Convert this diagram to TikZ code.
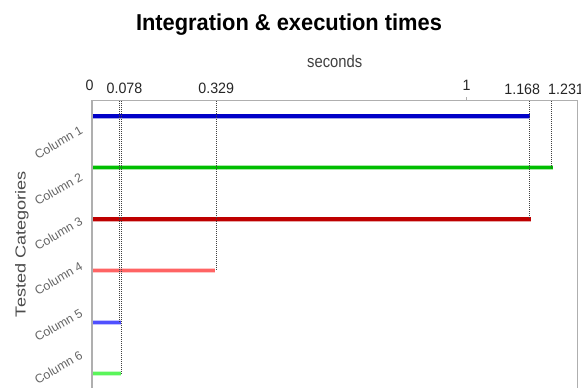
\documentclass[tikz,border=0pt]{standalone}
\usepackage{fontspec}
\setmainfont{Liberation Sans}
\newfontfamily\narrowfont[FakeStretch=0.95]{Liberation Sans}
\newfontfamily\condfont[FakeStretch=0.87]{Liberation Sans}
\newfontfamily\widefont[FakeStretch=1.25]{Liberation Sans}
\newcommand{\titlefont}{\narrowfont\fontsize{23}{27}\selectfont\bfseries}
\newcommand{\tickfont}{\narrowfont\fontsize{15}{17}\selectfont}
\newcommand{\secfont}{\condfont\fontsize{17}{19}\selectfont}
\newcommand{\catfont}{\fontsize{12.3}{14}\selectfont}
\newcommand{\ylabfont}{\widefont\fontsize{14.5}{16}\selectfont}
\definecolor{cA}{RGB}{0,0,200}
\definecolor{cB}{RGB}{0,190,0}
\definecolor{cC}{RGB}{190,0,0}
\definecolor{cD}{RGB}{255,100,100}
\definecolor{cE}{RGB}{80,80,255}
\definecolor{cF}{RGB}{90,245,90}
\definecolor{axisgray}{RGB}{175,175,175}
\begin{document}
\begin{tikzpicture}[x=1pt,y=-1pt,
  axisline/.style={draw=axisgray, line width=1.4pt},
  barglow/.style={line width=5pt, opacity=0.35},
  barcore/.style={line width=3.2pt},
  guide/.style={draw=black!75, line width=0.5pt, dash pattern=on 1pt off 1pt},
  ticklab/.style={font=\tickfont, text=black!85, inner sep=0pt},
  catlab/.style={font=\catfont, text=black!60, rotate=30, inner sep=0pt},
]
\useasboundingbox (0,0) rectangle (581,388);
\fill[white] (0,0) rectangle (581,388);

% title and axis title
\node[font=\titlefont, anchor=base, inner sep=0pt] (title) at (289,30.5) {Integration \& execution times};
\node[font=\secfont, text=black!75, anchor=base, inner sep=0pt] (secs) at (334.7,67.3) {seconds};
\node[font=\ylabfont, text=black!70, rotate=90, inner sep=0pt] (ylab) at (22,244) {Tested Categories};

% bars
\foreach \n/\y/\e/\c in {1/116/529.5/cA, 2/167.7/553/cB, 3/219/530.5/cC, 4/270.7/215/cD, 5/322.3/120.5/cE, 6/373.3/121/cF}{
  \coordinate (s\n) at (92,\y);
  \coordinate (e\n) at (\e,\y);
  \draw[barglow, \c] (s\n) -- (e\n);
  \draw[barcore, \c] (s\n) -- (e\n);
}

% guide lines
\foreach \n/\x/\y in {1/529.3/116, 2/551/167.7, 3/529.3/219, 4/216/270.7, 5/119.3/322.3, 6/121.5/373.3}{
  \coordinate (gt\n) at (\x,101);
  \coordinate (gb\n) at (\x,\y);
  \draw[guide] (gt\n) -- (gb\n);
}

% axes
\coordinate (o) at (92,100.5);
\coordinate (tr) at (577.5,100.5);
\coordinate (bl) at (92,388);
\coordinate (br) at (577.5,388);
\draw[axisline] (bl) -- (o) -- (tr) -- (br);
\coordinate (t1) at (466.7,100.5);
\coordinate (t1u) at (466.7,96.5);
\draw[axisline, line width=0.8pt] (t1) -- (t1u);

% tick labels
\node[ticklab, anchor=base] (l0) at (89.5,90.5) {0};
\node[ticklab, anchor=base] (l1) at (466.7,90) {1};
\node[ticklab, anchor=base] (la) at (124.5,93.5) {0.078};
\node[ticklab, anchor=base] (lb) at (216.2,93.3) {0.329};
\node[ticklab, anchor=base] (lc) at (522.2,94) {1.168};
\node[ticklab, anchor=base west] (ld) at (548,94) {1.231};

% category labels
\node[catlab] (c1) at (58.5,142.5) {Column 1};
\node[catlab] (c2) at (58.5,189) {Column 2};
\node[catlab] (c3) at (58.5,233.5) {Column 3};
\node[catlab] (c4) at (58.5,278.5) {Column 4};
\node[catlab] (c5) at (58.5,325) {Column 5};
\node[catlab] (c6) at (58.5,367.5) {Column 6};
\end{tikzpicture}
\end{document}
